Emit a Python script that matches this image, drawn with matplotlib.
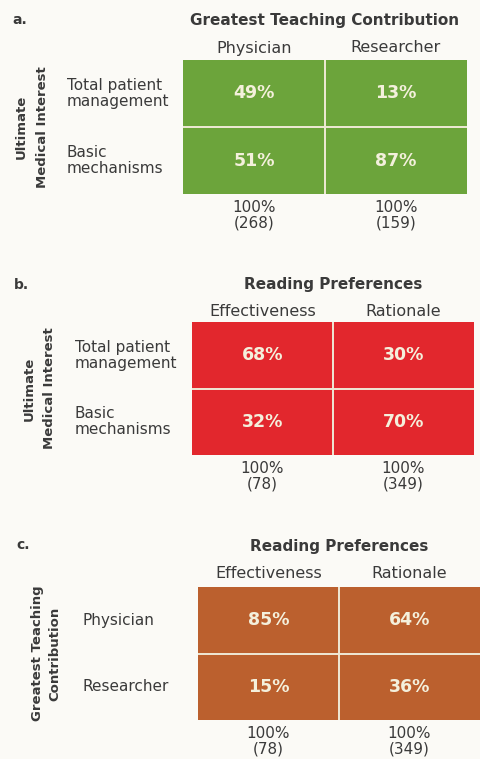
import matplotlib
matplotlib.use("Agg")
import matplotlib.pyplot as plt
import matplotlib.transforms as mtransforms
from matplotlib.colors import ListedColormap
import numpy as np

plt.rcParams['font.family'] = ['DejaVu Sans']

# ---------------- data ----------------
panel_letters = ["a.", "b.", "c."]
titles = ["Greatest Teaching Contribution", "Reading Preferences", "Reading Preferences"]
col_labels_a = ["Physician", "Researcher"]
col_labels_b = ["Effectiveness", "Rationale"]
col_labels_c = ["Effectiveness", "Rationale"]
row_labels_a = ["Total patient\nmanagement", "Basic\nmechanisms"]
row_labels_b = ["Total patient\nmanagement", "Basic\nmechanisms"]
row_labels_c = ["Physician", "Researcher"]
ylabels = ["Ultimate\nMedical Interest", "Ultimate\nMedical Interest", "Greatest Teaching\nContribution"]
values_a = [[49, 13], [51, 87]]
values_b = [[68, 30], [32, 70]]
values_c = [[85, 64], [15, 36]]
totals_a = [268, 159]
totals_b = [78, 349]
totals_c = [78, 349]

# ---------------- style / layout ----------------
W, H = 481, 759
BG = "#fbfaf6"
colors = ["#6ca43b", "#e2272d", "#bb602e"]
text_dark = "#3a3a3a"
cell_text = "#f4f0dc"
line_col = "#efe9d6"

# grid boxes in pixels: left, top, right, bottom
boxes = [(183, 60, 467, 194), (192, 322, 474, 455), (198, 587, 480, 720)]
title_y = [21, 284, 546]
letter_xy = [(12, 20), (14, 285), (16, 545)]
col_gap = [12, 11, 14]
row_x = [67, 75, 82]
ylab_x = [32, 39, 46]
ylab_ls = [1.75, 1.75, 1.4]

fig = plt.figure(figsize=(W / 100, H / 100), dpi=100, facecolor=BG)


def fx(x):
    return x / W


def fy(y):
    return 1 - y / H


panels = [
    (values_a, col_labels_a, row_labels_a, totals_a),
    (values_b, col_labels_b, row_labels_b, totals_b),
    (values_c, col_labels_c, row_labels_c, totals_c),
]

for k, (vals, cols, rows, tots) in enumerate(panels):
    l, t, r, b = boxes[k]
    ax = fig.add_axes([fx(l), fy(b), (r - l) / W, (b - t) / H])
    v = np.array(vals, dtype=float)
    ax.pcolormesh(v, cmap=ListedColormap([colors[k]]), edgecolors="none")
    nr, nc = v.shape
    ax.set_xlim(0, nc)
    ax.set_ylim(nr, 0)
    ax.axis("off")
    for i in range(1, nr):
        ax.axhline(i, color=line_col, lw=1.4)
    for j in range(1, nc):
        ax.axvline(j, color=line_col, lw=1.4)

    # cell values
    for i in range(nr):
        for j in range(nc):
            ax.text(j + 0.5, i + 0.5, f"{vals[i][j]}%", ha="center", va="center",
                    color=cell_text, fontsize=12.5, fontweight="bold")

    # column labels above
    trans_top = mtransforms.blended_transform_factory(ax.transData, ax.transAxes)
    off_top = mtransforms.offset_copy(trans_top, fig=fig, x=0, y=col_gap[k], units="dots")
    for j, c in enumerate(cols):
        ax.text(j + 0.5, 1.0, c, transform=off_top, ha="center", va="center",
                color=text_dark, fontsize=11.5)

    # totals below
    trans_bot = mtransforms.blended_transform_factory(ax.transData, ax.transAxes)
    off_bot = mtransforms.offset_copy(trans_bot, fig=fig, x=0, y=-6, units="dots")
    for j, n in enumerate(tots):
        ax.text(j + 0.5, 0.0, f"100%\n({n})", transform=off_bot, ha="center", va="top",
                color=text_dark, fontsize=11, linespacing=1.05)

    # row labels to left
    trans_left = mtransforms.blended_transform_factory(fig.transFigure, ax.transData)
    for i, rl in enumerate(rows):
        ax.text(fx(row_x[k]), i + 0.5, rl, transform=trans_left, ha="left", va="center",
                color=text_dark, fontsize=11, linespacing=1.05)

    # title
    fig.text(fx((l + r) / 2), fy(title_y[k]), titles[k], ha="center", va="center",
             color=text_dark, fontsize=11, fontweight="bold")
    # panel letter
    fig.text(fx(letter_xy[k][0]), fy(letter_xy[k][1]), panel_letters[k], ha="left",
             va="center", color=text_dark, fontsize=10, fontweight="bold")
    # y label
    fig.text(fx(ylab_x[k]), fy((t + b) / 2), ylabels[k], ha="center", va="center",
             rotation=90, color=text_dark, fontsize=9.5, fontweight="bold",
             linespacing=ylab_ls[k])

fig.savefig("out.png", dpi=100, facecolor=BG)
